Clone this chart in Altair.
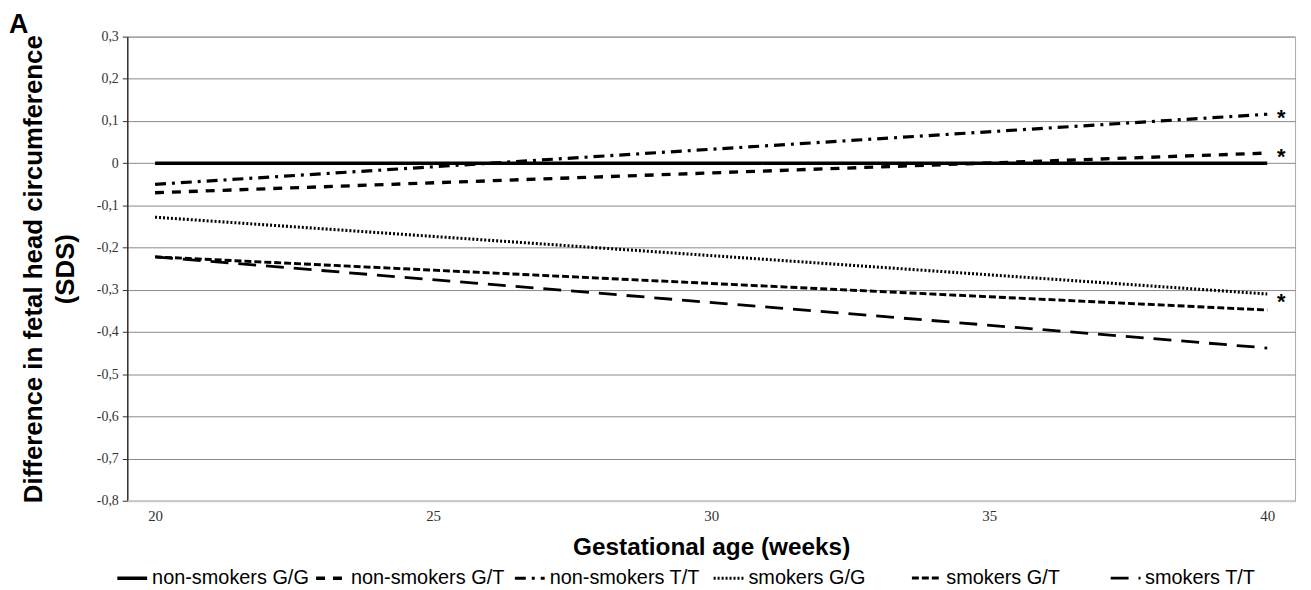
import altair as alt
import pandas as pd

# ---- data ----
groups = ["non-smokers G/G", "non-smokers G/T", "non-smokers T/T",
          "smokers G/G", "smokers G/T", "smokers T/T"]
weeks = [20, 40]
sds_week20 = [0.0, -0.070, -0.050, -0.128, -0.222, -0.222]
sds_week40 = [0.0, 0.024, 0.116, -0.310, -0.348, -0.438]

star_week = [40.25, 40.25, 40.25]
star_sds = [0.118, 0.026, -0.318]
star_text = ["*", "*", "*"]

x_ticks = [20, 25, 30, 35, 40]
y_ticks = [0.3, 0.2, 0.1, 0.0, -0.1, -0.2, -0.3, -0.4, -0.5, -0.6, -0.7, -0.8]

# ---- styles ----
dashes = [[1, 0], [9, 8], [11, 6, 3, 6], [2, 2], [7, 3], [18, 10]]
widths = [3.5, 2.8, 2.5, 2.0, 2.8, 2.8]

rows = []
for g, a, b in zip(groups, sds_week20, sds_week40):
    rows.append({"group": g, "week": weeks[0], "sds": a})
    rows.append({"group": g, "week": weeks[1], "sds": b})
df = pd.DataFrame(rows)
stars = pd.DataFrame({"week": star_week, "sds": star_sds, "t": star_text})

xscale = alt.Scale(domain=[19.5, 40.5], nice=False, zero=False)
yscale = alt.Scale(domain=[-0.8, 0.3], nice=False, zero=False)

legend = alt.Legend(
    title=None, orient="none", direction="horizontal",
    legendX=-12, legendY=528, gridAlign="all",
    symbolType="stroke", symbolSize=900, symbolStrokeColor="black",
    labelFont="Liberation Sans", labelFontSize=20, labelColor="black",
    labelOffset=3, columnPadding=0, labelLimit=400,
)

lines = alt.Chart(df).mark_line(color="black", strokeCap="butt").encode(
    x=alt.X("week:Q", scale=xscale, axis=alt.Axis(
        values=x_ticks, ticks=False, grid=False, format="d",
        domainColor="#c8c8c8", domainWidth=2, zindex=1,
        labelFont="Liberation Serif", labelFontSize=15, labelColor="#333",
        labelPadding=8,
        title="Gestational age (weeks)", titleFont="Liberation Sans",
        titleFontSize=24.5, titleFontWeight="bold", titleColor="black",
        titlePadding=12)),
    y=alt.Y("sds:Q", scale=yscale, axis=alt.Axis(
        values=y_ticks, grid=True, gridColor="#8a8a8a", gridWidth=1,
        domainColor="#333", domainWidth=1.5, tickColor="#333", tickSize=5,
        labelExpr="(datum.value < -0.0001 ? '-' : '') + (abs(datum.value) < 0.0001 ? '0' : replace(format(abs(datum.value), '.1f'), '.', ','))",
        labelFont="Liberation Serif", labelFontSize=14, labelColor="#333",
        labelPadding=4,
        title=["Difference in fetal head circumference", "(SDS)"],
        titleFont="Liberation Sans", titleFontSize=26, titleFontWeight="bold",
        titleColor="black", titleLineHeight=32, titlePadding=18)),
    strokeDash=alt.StrokeDash("group:N", scale=alt.Scale(domain=groups, range=dashes), legend=legend),
    strokeWidth=alt.StrokeWidth("group:N", scale=alt.Scale(domain=groups, range=widths), legend=legend),
)

star_marks = alt.Chart(stars).mark_text(
    font="Liberation Sans", fontSize=22, fontWeight="bold", color="black",
    baseline="alphabetic", dy=12, align="center"
).encode(
    x=alt.X("week:Q", scale=xscale),
    y=alt.Y("sds:Q", scale=yscale),
    text="t:N",
)

chart = alt.layer(lines, star_marks).properties(
    width=1175, height=467,
    autosize=alt.AutoSizeParams(type="none"),
    padding={"left": 120, "top": 27, "right": 8, "bottom": 88},
    title=alt.TitleParams("A", anchor="start", frame="group", dx=-119, dy=13,
                          offset=4, font="Liberation Sans", fontSize=27,
                          fontWeight="bold", color="black"),
).configure_view(stroke="#aaa", strokeWidth=1)

chart.save("out.html", embed_options={"renderer": "svg", "actions": False})
